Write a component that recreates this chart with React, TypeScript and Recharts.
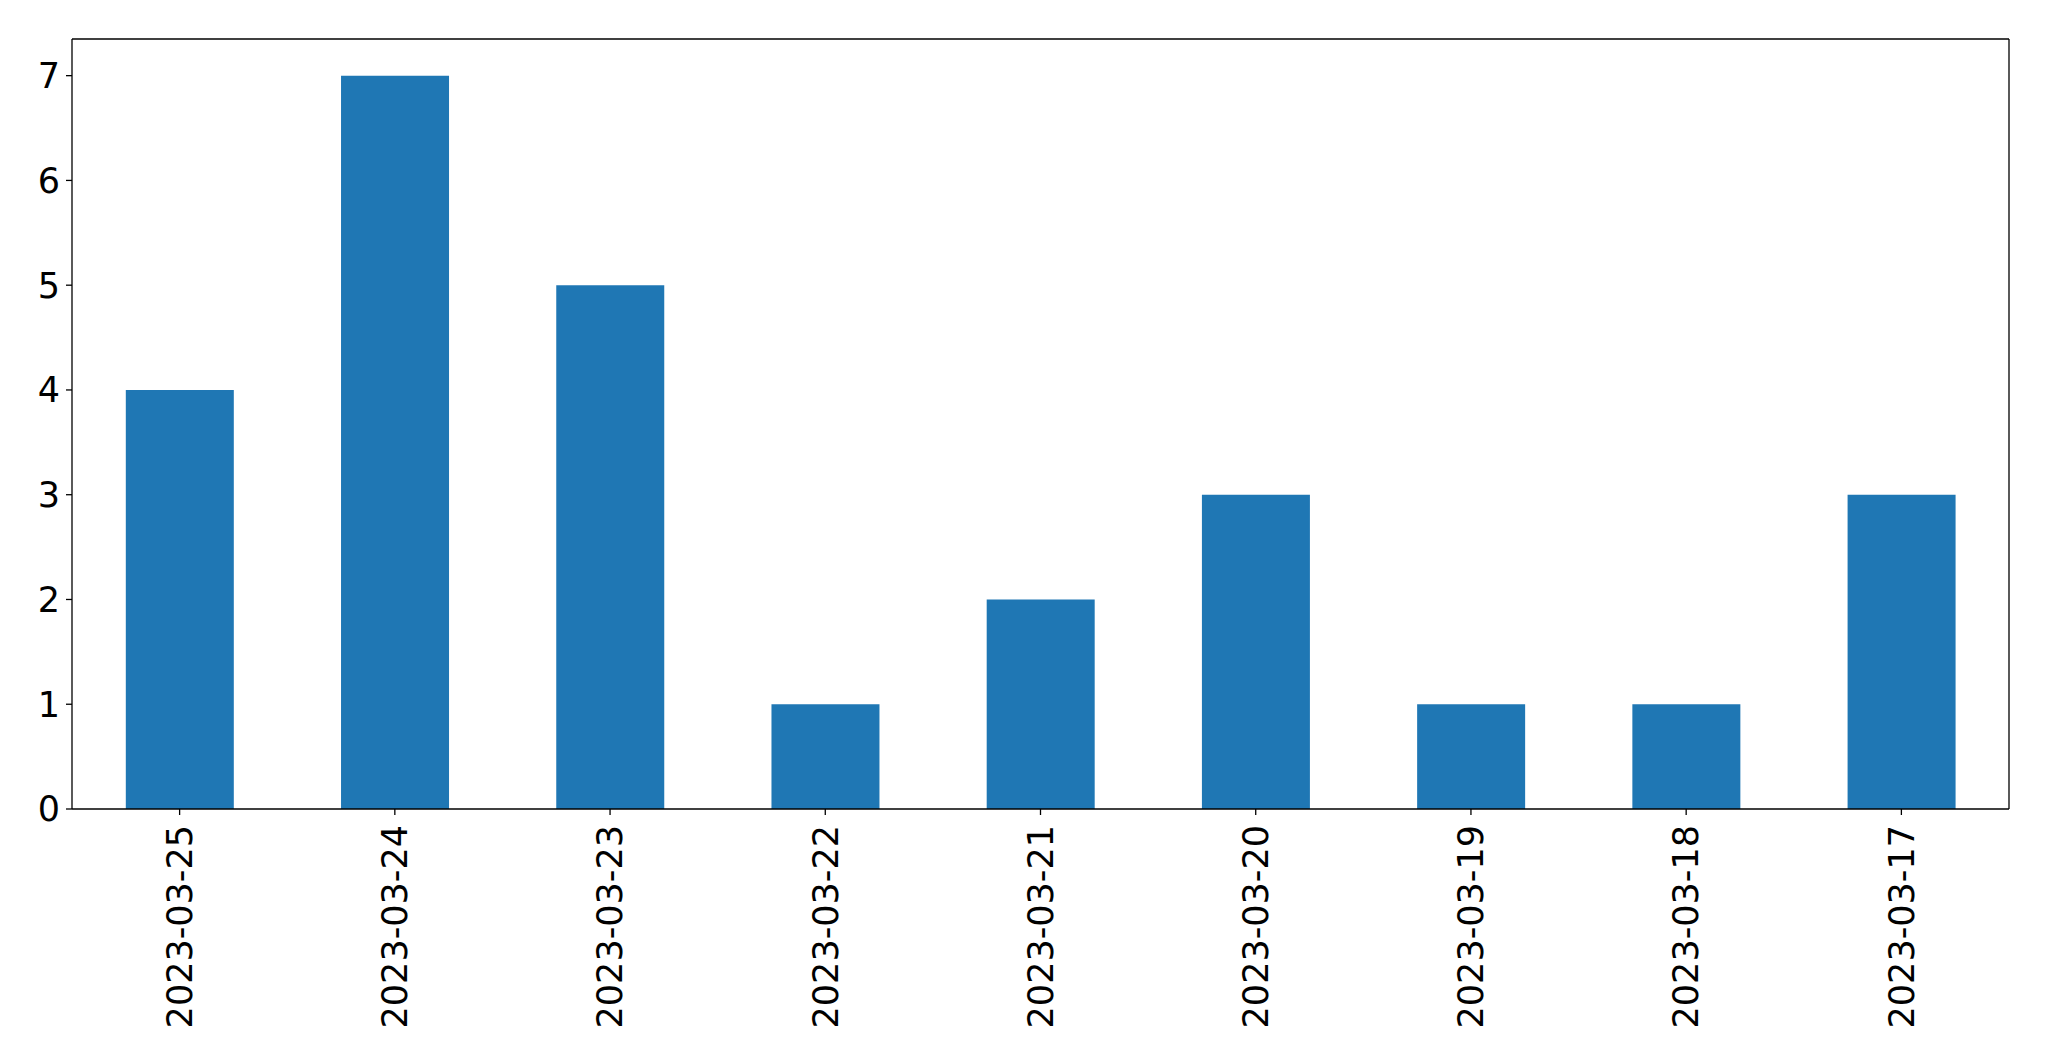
import { BarChart, Bar, XAxis, YAxis } from "recharts";

const dates = [
  "2023-03-25",
  "2023-03-24",
  "2023-03-23",
  "2023-03-22",
  "2023-03-21",
  "2023-03-20",
  "2023-03-19",
  "2023-03-18",
  "2023-03-17",
];
const counts = [4, 7, 5, 1, 2, 3, 1, 1, 3];
const yTicks = [0, 1, 2, 3, 4, 5, 6, 7];

const data = dates.map((d, i) => ({ date: d, count: counts[i] }));

const FONT = "'DejaVu Sans', sans-serif";

/* rotated date labels, like rotation=90 in matplotlib */
function DateTick(props: any) {
  const { x, y, payload } = props;
  return (
    <text
      x={x}
      y={y}
      dy="0.35em"
      transform={`rotate(-90, ${x}, ${y})`}
      textAnchor="end"
      fill="#000"
      style={{ fontSize: 35, fontFamily: FONT }}
    >
      {payload.value}
    </text>
  );
}

export default function App() {
  return (
    <div style={{ position: "absolute", left: 0, top: 0, background: "#fff" }}>
      <BarChart
        width={2049}
        height={1061}
        data={data}
        margin={{ top: 38, right: 39, left: 0, bottom: 0 }}
        barCategoryGap="25%"
      >
        <XAxis
          dataKey="date"
          height={252}
          interval={0}
          tick={<DateTick />}
          tickSize={6}
          tickMargin={10}
          axisLine={{ stroke: "#000", strokeWidth: 1.3 }}
          tickLine={{ stroke: "#000", strokeWidth: 1.3 }}
        />
        {/* top spine */}
        <XAxis
          xAxisId="top"
          dataKey="date"
          orientation="top"
          height={1}
          tick={false}
          tickLine={false}
          axisLine={{ stroke: "#000", strokeWidth: 1.3 }}
        />
        <YAxis
          width={72}
          domain={[0, 7.35]}
          ticks={yTicks}
          interval={0}
          tickSize={6}
          tickMargin={6}
          tick={{ fill: "#000", fontSize: 35, fontFamily: FONT }}
          axisLine={{ stroke: "#000", strokeWidth: 1.3 }}
          tickLine={{ stroke: "#000", strokeWidth: 1.3 }}
        />
        {/* right spine */}
        <YAxis
          yAxisId="right"
          orientation="right"
          width={1}
          domain={[0, 7.35]}
          tick={false}
          tickLine={false}
          axisLine={{ stroke: "#000", strokeWidth: 1.3 }}
        />
        <Bar dataKey="count" fill="#1f77b4" isAnimationActive={false} />
      </BarChart>
    </div>
  );
}
